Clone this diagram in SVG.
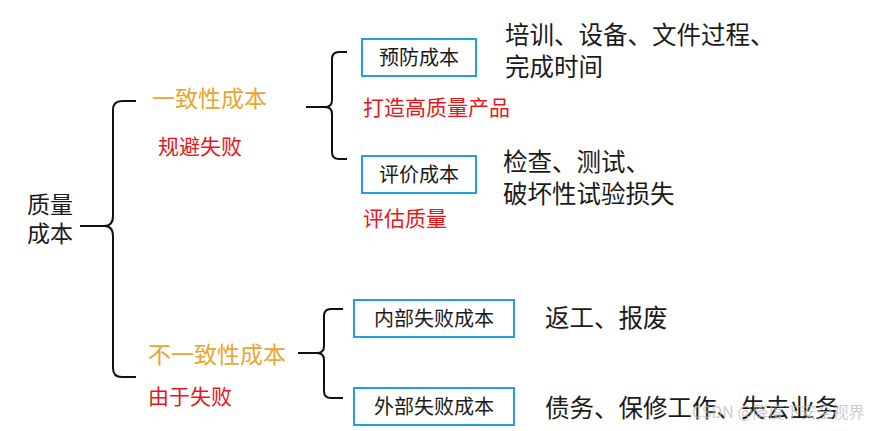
<svg xmlns="http://www.w3.org/2000/svg" width="876" height="431" viewBox="0 0 876 431">
<style>
text{font-family:"Noto Sans CJK SC","Microsoft YaHei",sans-serif;}
.blk{fill:#1a1a1a;}
.org{fill:#EBA52E;font-size:23px;}
.red{fill:#E8161B;font-size:21px;}
.box{fill:#fff;stroke:#1FA0DC;stroke-width:2;}
.bt{fill:#1a1a1a;font-size:20px;text-anchor:middle;}
.br{fill:none;stroke:#111;stroke-width:2;}
.desc{fill:#1a1a1a;font-size:24.5px;}
</style>
<rect width="876" height="431" fill="#fff"/>
<g id="connectors">
<path class="br" d="M80,226 L104,226 Q113,226 113,216 L113,110 Q113,101 122,101 L136,101 M104,226 Q113,226 113,236 L113,368 Q113,377 122,377 L136,377"/>
<path class="br" d="M306,107 L325,107 Q332,107 332,100 L332,59 Q332,52 339,52 L347,52 M325,107 Q332,107 332,114 L332,152 Q332,159 339,159 L347,159"/>
<path class="br" d="M298,353 L317,353 Q324,353 324,346 L324,316 Q324,309 331,309 L343,309 M317,353 Q324,353 324,360 L324,391 Q324,398 331,398 L343,398"/>
</g>
<g id="root">
<text class="blk" x="27" y="213" font-size="23">质量</text>
<text class="blk" x="27" y="242" font-size="23">成本</text>
</g>
<g id="conform">
<text class="org" x="152" y="107">一致性成本</text>
<text class="red" x="158" y="154" font-size="22">规避失败</text>
</g>
<g id="nonconform">
<text class="org" x="148" y="363">不一致性成本</text>
<text class="red" x="148" y="404" font-size="22">由于失败</text>
</g>
<g id="prevent">
<rect class="box" x="362" y="39" width="114" height="37"/>
<text class="bt" x="419" y="65">预防成本</text>
<text class="red" x="363" y="115" font-size="22">打造高质量产品</text>
<text class="desc" x="505" y="44">培训、设备、文件过程、</text>
<text class="desc" x="505" y="76">完成时间</text>
</g>
<g id="appraise">
<rect class="box" x="362" y="156" width="114" height="37"/>
<text class="bt" x="419" y="182">评价成本</text>
<text class="red" x="363" y="226" font-size="22">评估质量</text>
<text class="desc" x="503" y="171">检查、测试、</text>
<text class="desc" x="503" y="203">破坏性试验损失</text>
</g>
<g id="internal">
<rect class="box" x="354" y="300" width="160" height="37"/>
<text class="bt" x="434" y="326">内部失败成本</text>
<text class="desc" x="545" y="327" font-size="25.5">返工、报废</text>
</g>
<g id="external">
<rect class="box" x="354" y="388" width="160" height="37"/>
<text class="bt" x="434" y="414">外部失败成本</text>
<text class="desc" x="545" y="417" font-size="25.5">债务、保修工作、失去业务</text>
</g>
<text x="692" y="418" font-size="16" fill="#bbb" fill-opacity="0.75" font-family="Noto Sans CJK SC, sans-serif">CSDN @降度下安全视界</text>
</svg>
